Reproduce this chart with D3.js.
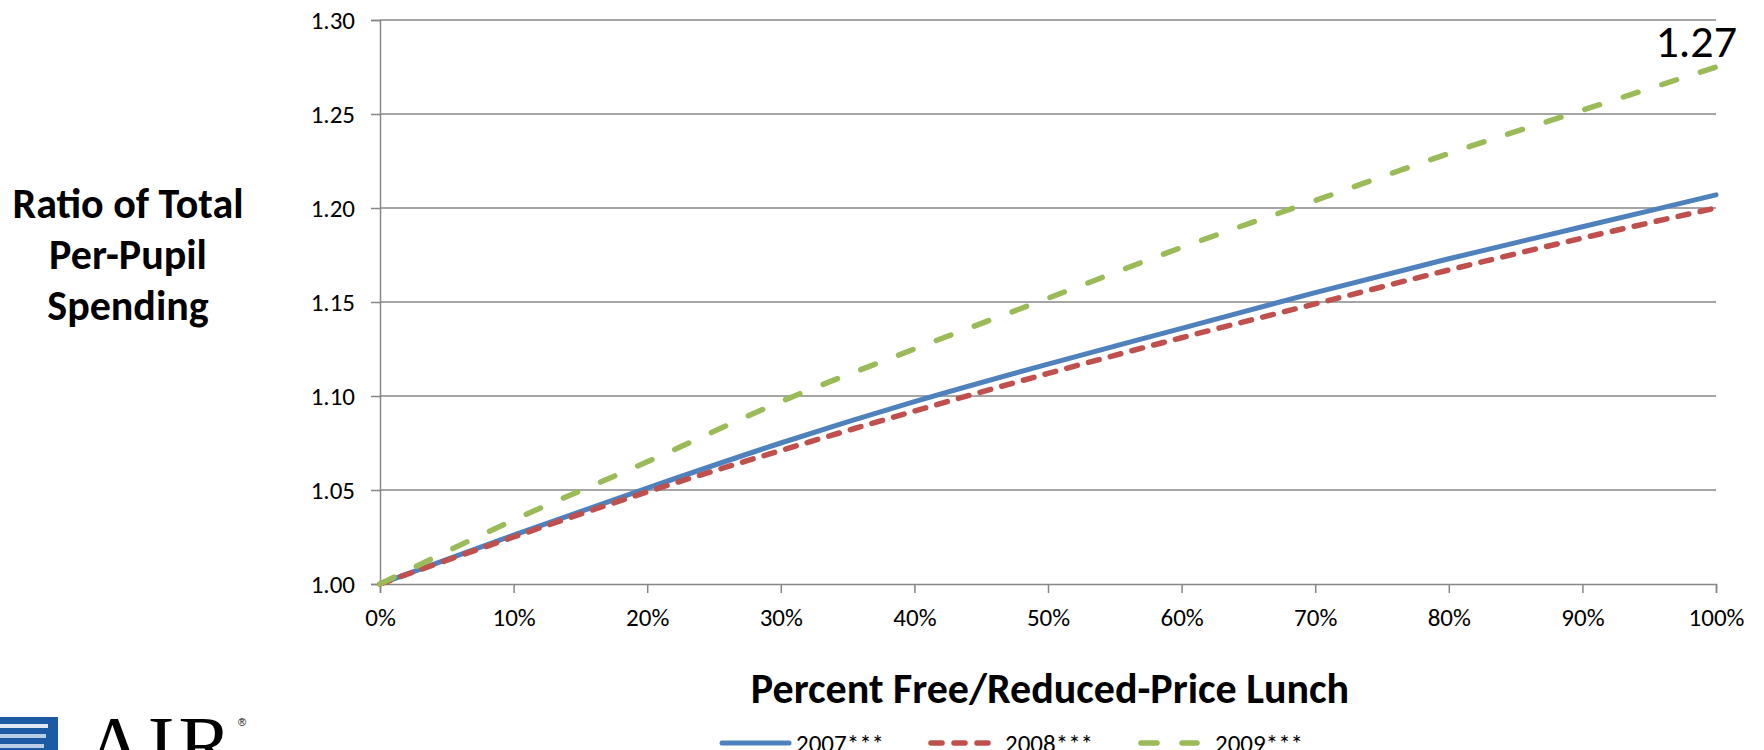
<!DOCTYPE html>
<html>
<head>
<meta charset="utf-8">
<script src="https://cdn.jsdelivr.net/npm/d3@7/dist/d3.min.js"></script>
<style>
  html, body { margin: 0; padding: 0; background: #fff; overflow: hidden; }
  svg { display: block; }
  text { font-family: Carlito, Calibri, Lato, "Open Sans", sans-serif; fill: #000; }
</style>
</head>
<body>
<svg id="chart" width="1764" height="750"></svg>
<script>
// ---- data ----
const pctLunch = [0, 0.1, 0.2, 0.3, 0.4, 0.5, 0.6, 0.7, 0.8, 0.9, 1.0];
const s2007 = [1.000, 1.026, 1.051, 1.075, 1.097, 1.117, 1.136, 1.155, 1.173, 1.190, 1.207];
const s2008 = [1.000, 1.025, 1.049, 1.071, 1.092, 1.112, 1.131, 1.149, 1.167, 1.184, 1.200];
const s2009 = [1.000, 1.034, 1.065, 1.097, 1.125, 1.152, 1.179, 1.204, 1.229, 1.252, 1.275];
const seriesNames = ["2007***", "2008***", "2009***"];
const yTicks = [1.00, 1.05, 1.10, 1.15, 1.20, 1.25, 1.30];
const xTicks = [0, 0.1, 0.2, 0.3, 0.4, 0.5, 0.6, 0.7, 0.8, 0.9, 1.0];
const yTitleLines = ["Ratio of Total", "Per-Pupil", "Spending"];
const xTitle = "Percent Free/Reduced-Price Lunch";
const endLabel = "1.27";

const svg = d3.select("#chart");
const x = d3.scaleLinear().domain([0, 1]).range([380, 1716]);
const y = d3.scaleLinear().domain([1.0, 1.3]).range([584, 20]);
const grid = "#878787";

// gridlines
svg.append("g").selectAll("line").data(yTicks.filter(v => v > 1.0)).join("line")
  .attr("x1", x(0)).attr("x2", x(1))
  .attr("y1", d => y(d)).attr("y2", d => y(d))
  .attr("stroke", grid).attr("stroke-width", 1.5);

// y axis
const yAxis = d3.axisLeft(y).tickValues(yTicks).tickFormat(d3.format(".2f")).tickSize(9).tickPadding(16);
const gy = svg.append("g").attr("transform", `translate(${x(0)},0)`).call(yAxis);
gy.select(".domain").attr("stroke", grid).attr("stroke-width", 1.5);
gy.selectAll(".tick line").attr("stroke", grid).attr("stroke-width", 1.5);
gy.selectAll(".tick text").style("font-size", "25px").attr("fill", "#000");

// x axis
const xAxis = d3.axisBottom(x).tickValues(xTicks).tickFormat(d3.format(".0%")).tickSize(9).tickPadding(15);
const gx = svg.append("g").attr("transform", `translate(0,${y(1.0)})`).call(xAxis);
gx.select(".domain").attr("stroke", grid).attr("stroke-width", 1.5);
gx.selectAll(".tick line").attr("stroke", grid).attr("stroke-width", 1.5);
gx.selectAll(".tick text").style("font-size", "25px").attr("fill", "#000");

// series
const series = [
  { name: seriesNames[0], values: s2007, color: "#4F81BD", dash: null },
  { name: seriesNames[1], values: s2008, color: "#C0504D", dash: "11,11.5" },
  { name: seriesNames[2], values: s2009, color: "#9BBB59", dash: "15.5,25" }
];
const line = d3.line().x((d, i) => x(pctLunch[i])).y(d => y(d)).curve(d3.curveMonotoneX);
svg.append("g").selectAll("path").data(series).join("path")
  .attr("d", d => line(d.values))
  .attr("fill", "none")
  .attr("stroke", d => d.color)
  .attr("stroke-width", d => d.dash ? 5.5 : 5)
  .attr("stroke-linecap", "round")
  .attr("stroke-dasharray", d => d.dash);

// end label
svg.append("text")
  .attr("x", x(1) + 21).attr("y", y(s2009[s2009.length - 1]) - 10)
  .attr("text-anchor", "end")
  .style("font-size", "46px")
  .text(endLabel);

// y title
svg.append("g").selectAll("text").data(yTitleLines).join("text")
  .attr("x", 128).attr("y", (d, i) => 218 + i * 51)
  .attr("text-anchor", "middle")
  .style("font-size", "42px").style("font-weight", "bold")
  .text(d => d);

// x title
svg.append("text")
  .attr("x", 1050).attr("y", 703)
  .attr("text-anchor", "middle")
  .style("font-size", "42px").style("font-weight", "bold")
  .text(xTitle);

// legend
const legendPos = [
  { x0: 722, x1: 789, tx: 796 },
  { x0: 931, x1: 989, tx: 1005 },
  { x0: 1141, x1: 1197, tx: 1215 }
];
const lg = svg.append("g").selectAll("g").data(series).join("g");
lg.append("line")
  .attr("x1", (d, i) => legendPos[i].x0).attr("x2", (d, i) => legendPos[i].x1)
  .attr("y1", 743).attr("y2", 743)
  .attr("stroke", d => d.color)
  .attr("stroke-width", d => d.dash ? 5.5 : 5)
  .attr("stroke-linecap", "round")
  .attr("stroke-dasharray", (d, i) => i === 1 ? "11,12" : (i === 2 ? "16,25" : null));
lg.append("text")
  .attr("x", (d, i) => legendPos[i].tx).attr("y", 752)
  .style("font-size", "25px")
  .text(d => d.name);

// logo (partially cut off at the bottom)
const logo = svg.append("g");
logo.append("rect").attr("x", -4).attr("y", 717).attr("width", 62).attr("height", 50).attr("fill", "#1d5aa4");
[724, 734, 744].forEach((yy, i) => {
  logo.append("rect").attr("x", -4).attr("y", yy).attr("width", 52 - i * 2).attr("height", 4)
    .attr("fill", i === 0 ? "#dfe8f4" : "#b9cde6");
});
logo.append("text")
  .attr("x", 86).attr("y", 772)
  .style("font-family", "'Liberation Serif', 'DejaVu Serif', serif")
  .style("font-size", "80px")
  .style("letter-spacing", "4px")
  .attr("fill", "#1d5aa4")
  .text("AIR");
logo.append("text")
  .attr("x", 238).attr("y", 726)
  .style("font-family", "'Liberation Sans', sans-serif")
  .style("font-size", "11px")
  .attr("fill", "#1d5aa4")
  .text("®");
</script>
</body>
</html>
